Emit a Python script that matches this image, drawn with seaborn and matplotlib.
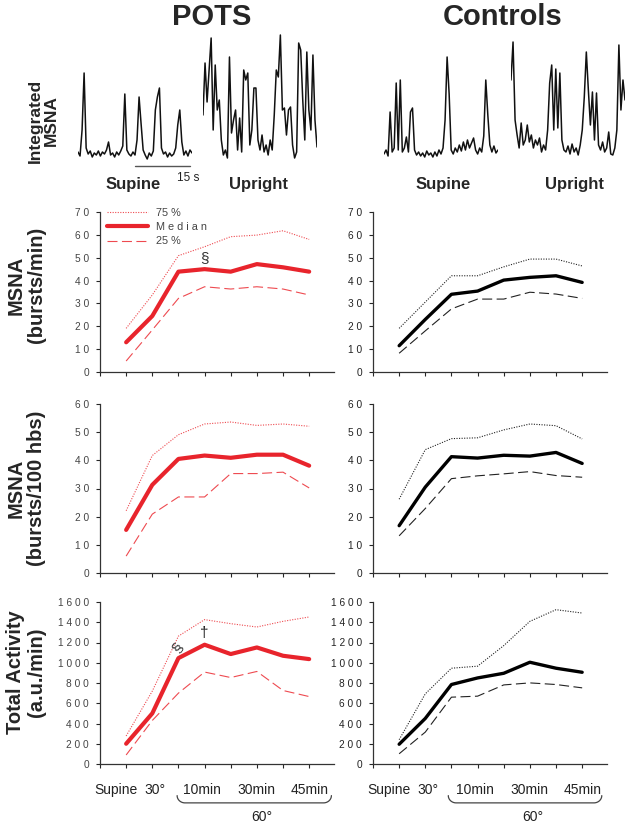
import numpy as np
import pandas as pd
import matplotlib
matplotlib.use("Agg")
import matplotlib.pyplot as plt
import matplotlib.transforms as mtransforms
import seaborn as sns
from matplotlib.ticker import FuncFormatter

#%% STYLE
sns.set_style("ticks")
plt.rcParams['font.family'] = ['Liberation Sans', 'DejaVu Sans']
RED = '#e8242c'
RED_LT = '#ee4a50'
BLK = '#000000'
GREY_TXT = '#444444'

#%% DATA
x_pos = [1, 2, 3, 4, 5, 6, 7, 8]
x_labels = ['Supine', '30°', '10min', '30min', '45min']
x_label_pos = [0.6, 2.1, 3.9, 6.0, 8.0]

# MSNA (bursts/min)
pots_rate_p75 = [19.1, 33.7, 50.9, 54.8, 59.2, 59.9, 61.8, 58.0]
pots_rate_med = [13.0, 24.5, 43.9, 45.0, 43.9, 47.2, 45.8, 43.9]
pots_rate_p25 = [4.8, 18.4, 32.2, 37.3, 36.3, 37.3, 36.3, 33.7]
ctrl_rate_p75 = [19.1, 30.6, 42.1, 42.1, 46.0, 49.4, 49.4, 46.4]
ctrl_rate_med = [11.5, 23.0, 34.0, 35.4, 40.2, 41.4, 42.1, 39.2]
ctrl_rate_p25 = [8.2, 18.0, 27.6, 31.9, 31.9, 34.9, 34.1, 32.2]

# MSNA (bursts/100 hbs)
pots_hb_p75 = [22.1, 41.7, 49.1, 52.9, 53.6, 52.4, 52.9, 52.1]
pots_hb_med = [15.3, 31.3, 40.5, 41.7, 40.9, 42.0, 42.0, 38.1]
pots_hb_p25 = [6.0, 20.9, 27.0, 27.0, 35.3, 35.3, 35.8, 30.2]
ctrl_hb_p75 = [26.2, 43.8, 47.7, 48.0, 50.8, 52.9, 52.3, 47.6]
ctrl_hb_med = [16.8, 30.5, 41.3, 40.8, 41.8, 41.5, 42.8, 38.9]
ctrl_hb_p25 = [13.2, 22.9, 33.5, 34.5, 35.2, 36.0, 34.6, 34.0]

# Total activity (a.u./min)
pots_ta_p75 = [277, 720, 1263, 1426, 1386, 1353, 1409, 1452]
pots_ta_med = [200, 500, 1046, 1178, 1086, 1151, 1069, 1036]
pots_ta_p25 = [89, 430, 700, 908, 854, 914, 726, 666]
ctrl_ta_p75 = [240, 693, 946, 966, 1169, 1409, 1524, 1491]
ctrl_ta_med = [195, 450, 785, 850, 896, 1005, 946, 906]
ctrl_ta_p25 = [101, 315, 660, 670, 781, 801, 785, 752]

# integrated MSNA traces (amplitude, 2 px steps)
pots_supine_trace = [18, 14, 40, 97, 22, 16, 19, 13, 17, 15, 19, 14, 18, 16, 20, 28, 15, 17, 13,
                     18, 15, 19, 24, 76, 20, 16, 14, 18, 15, 30, 73, 46, 20, 15, 11, 17, 14, 19,
                     60, 73, 82, 22, 16, 18, 13, 17, 14, 16, 22, 45, 60, 28, 15, 19, 14, 20, 17]
pots_upright_trace = [55, 107, 68, 100, 132, 40, 105, 60, 70, 30, 15, 20, 12, 113, 37, 50, 60, 20,
                      52, 18, 100, 90, 97, 25, 40, 82, 82, 30, 20, 35, 18, 25, 15, 30, 20, 55, 100,
                      93, 135, 60, 62, 35, 60, 63, 25, 12, 18, 127, 120, 70, 30, 118, 60, 40, 115,
                      50, 23]
ctrl_supine_trace = [16, 20, 14, 58, 18, 22, 87, 20, 90, 18, 22, 33, 18, 58, 62, 20, 15, 18, 14,
                     17, 13, 19, 15, 17, 13, 18, 14, 20, 16, 22, 50, 113, 76, 20, 16, 22, 18, 25,
                     19, 28, 20, 30, 22, 27, 32, 20, 16, 22, 18, 34, 90, 55, 25, 18, 24, 17, 20]
ctrl_upright_trace = [90, 128, 50, 35, 22, 47, 25, 30, 45, 28, 35, 22, 30, 25, 32, 18, 25, 20, 40,
                      87, 105, 40, 101, 42, 97, 30, 20, 18, 24, 16, 26, 18, 22, 15, 25, 40, 73,
                      118, 80, 45, 78, 30, 77, 25, 20, 28, 18, 22, 38, 16, 15, 22, 40, 125, 60,
                      90, 70]

#%% FIGURE
W, H = 626, 826
fig = plt.figure(figsize=(W / 100, H / 100), dpi=100)

def px_axes(x0, y0, x1, y1):
    return fig.add_axes([x0 / W, 1 - y1 / H, (x1 - x0) / W, (y1 - y0) / H])

#%% TRACES
traces = [(pots_supine_trace, 78, 192), (pots_upright_trace, 203, 317),
          (ctrl_supine_trace, 384, 498), (ctrl_upright_trace, 511, 625)]
for vals, x0, x1 in traces:
    tax = px_axes(x0, 30, x1, 170)
    sns.lineplot(x=np.arange(len(vals)), y=vals, ax=tax, color='#111111', lw=1.1)
    tax.set_xlim(0, len(vals) - 1)
    tax.set_ylim(0, 140)
    tax.axis('off')

fig.text(212 / W, 1 - 17 / H, 'POTS', fontsize=21, fontweight='bold', ha='center', va='center')
fig.text(503 / W, 1 - 17 / H, 'Controls', fontsize=21, fontweight='bold', ha='center', va='center')
fig.text(43 / W, 1 - 121 / H, 'Integrated\nMSNA', fontsize=12.5, fontweight='bold', rotation=90,
         ha='center', va='center', multialignment='center', linespacing=1.1)
for txt, xc in [('Supine', 133), ('Upright', 258), ('Supine', 443), ('Upright', 575)]:
    fig.text(xc / W, 1 - 184 / H, txt, fontsize=12, fontweight='bold', ha='center', va='center')
# 15 s scale bar
fig.add_artist(plt.Line2D([135 / W, 190 / W], [1 - 166 / H, 1 - 166 / H], color='#555555', lw=1))
fig.text(188 / W, 1 - 178 / H, '15 s', fontsize=8.5, ha='center', va='center', color='#222222')

#%% PANELS
rows = [
    (212, 372, 70, 10, (pots_rate_p75, pots_rate_med, pots_rate_p25),
     (ctrl_rate_p75, ctrl_rate_med, ctrl_rate_p25), 'MSNA\n(bursts/min)', 285),
    (404, 573, 60, 10, (pots_hb_p75, pots_hb_med, pots_hb_p25),
     (ctrl_hb_p75, ctrl_hb_med, ctrl_hb_p25), 'MSNA\n(bursts/100 hbs)', 488),
    (602, 764, 1600, 200, (pots_ta_p75, pots_ta_med, pots_ta_p25),
     (ctrl_ta_p75, ctrl_ta_med, ctrl_ta_p25), 'Total Activity\n(a.u./min)', 672),
]
cols = [(100, 334, RED, RED_LT, 3.0, 0), (373, 607, BLK, '#222222', 2.4, 1)]
spaced = FuncFormatter(lambda v, p: " ".join(str(int(round(v)))))

axes = {}
for ri, (y0, y1, ymax, ystep, pots, ctrl, ylab, ylab_y) in enumerate(rows):
    for x0, x1, c_med, c_q, lw_med, ci in cols:
        ax = px_axes(x0, y0, x1, y1)
        p75, med, p25 = pots if ci == 0 else ctrl
        sns.lineplot(x=x_pos, y=p75, ax=ax, color=c_q, lw=0.8, linestyle=(0, (1, 1.3)), label='75 %')
        sns.lineplot(x=x_pos, y=med, ax=ax, color=c_med, lw=lw_med, label='M e d i a n')
        sns.lineplot(x=x_pos, y=p25, ax=ax, color=c_q, lw=0.8, linestyle=(0, (9, 4)), label='25 %')
        ax.set_xlim(0, 8.95)
        ax.set_ylim(0, ymax)
        ax.set_yticks(np.arange(0, ymax + 1, ystep))
        ax.set_xticks(np.arange(0, 9))
        ax.yaxis.set_major_formatter(spaced)
        ax.tick_params(axis='y', direction='out', length=3, width=0.8, labelsize=7.3,
                       labelcolor=GREY_TXT if ci == 0 else '#222222', pad=5)
        ax.tick_params(axis='x', direction='out', length=3, width=0.8, labelbottom=False)
        sns.despine(ax=ax)
        for s in ['left', 'bottom']:
            ax.spines[s].set_color('#333333')
            ax.spines[s].set_linewidth(0.9)
        ax.set_xlabel('')
        ax.set_ylabel('')
        if ri == 0 and ci == 0:
            ax.legend(loc='upper left', bbox_to_anchor=(0.0, 1.065), frameon=False, fontsize=7.8,
                      handlelength=3.8, labelspacing=0.38, borderaxespad=0.2, labelcolor=GREY_TXT)
        else:
            ax.get_legend().remove()
        axes[(ri, ci)] = ax
    fig.text(26 / W, 1 - ylab_y / H, ylab, fontsize=14.5, fontweight='bold', rotation=90,
             ha='center', va='center', multialignment='center', linespacing=1.1)

# significance marks
axes[(0, 0)].text(4, 50, '§', fontsize=11, ha='center', va='center', color='#333333')
axes[(2, 0)].text(2.95, 1150, '§', fontsize=11, ha='center', va='center', color='#333333', rotation=55)
axes[(2, 0)].text(4, 1290, '†', fontsize=11, ha='center', va='center', color='#222222')

#%% X LABELS + BRACE
for ci in (0, 1):
    ax = axes[(2, ci)]
    tr = mtransforms.blended_transform_factory(ax.transData, ax.transAxes)
    for lab, xp in zip(x_labels, x_label_pos):
        ax.text(xp, -0.16, lab, transform=tr, fontsize=10, ha='center', va='center', color='#222222')
    bx0, bx1 = (2.95, 8.85) if ci == 0 else (2.88, 8.75)
    ytop, ybot, r = -0.195, -0.24, 0.3
    t = np.linspace(0, np.pi / 2, 20)
    lx = bx0 + r * (1 - np.cos(t))
    ly = ytop + (ybot - ytop) * np.sin(t)
    rx = bx1 - r * (1 - np.cos(t[::-1]))
    ry = ytop + (ybot - ytop) * np.sin(t[::-1])
    ax.plot(np.r_[lx, rx], np.r_[ly, ry], transform=tr, color='#444444', lw=0.9, clip_on=False)
    ax.text((bx0 + bx1) / 2 + 0.3, -0.33, '60°', transform=tr, fontsize=10, ha='center',
            va='center', color='#222222')

fig.savefig('out.png', dpi=100)
